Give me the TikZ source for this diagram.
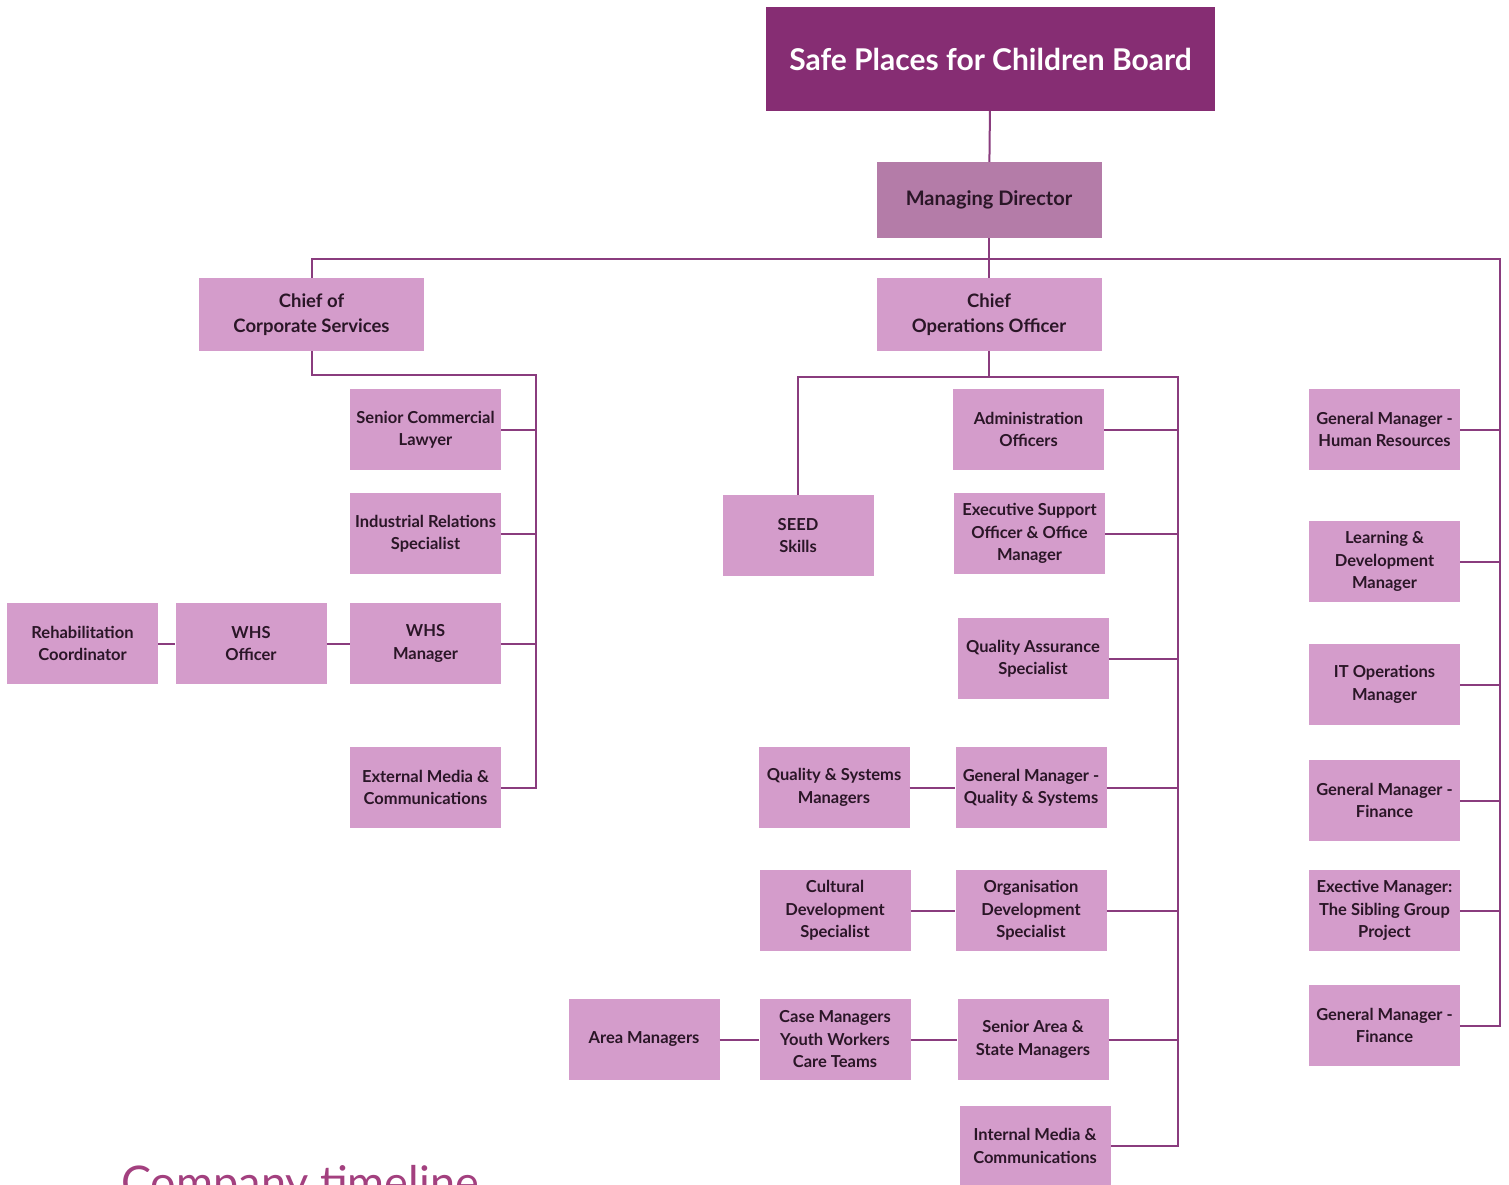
\documentclass[tikz,border=0pt]{standalone}
\usepackage{fontspec}
\setmainfont{Lato}
\usepackage{xcolor}
\definecolor{boardpurple}{HTML}{862D73}
\definecolor{mdpurple}{HTML}{B47CA8}
\definecolor{boxpink}{HTML}{D49CCB}
\definecolor{linepurple}{HTML}{8A3C7E}
\definecolor{textdark}{HTML}{2A1627}
\definecolor{timelinepink}{HTML}{A3407F}

\begin{document}
\begin{tikzpicture}[x=1pt,y=-1pt,
  box/.style={rectangle,fill=boxpink,minimum width=151pt,minimum height=81pt,inner sep=0pt,align=center,text=textdark,font=\bfseries\fontsize{16.5}{22.5}\selectfont},
  headbox/.style={box,minimum width=225pt,minimum height=73pt,font=\bfseries\fontsize{18.5}{25.5}\selectfont},
  link/.style={draw=linepurple,line width=2pt}]
\useasboundingbox[fill=white] (0,0) rectangle (1509,1184);

% top of the chart
\node[rectangle,fill=boardpurple,minimum width=449pt,minimum height=104pt,text=white,font=\bfseries\fontsize{30}{33}\selectfont] (board) at (990.5,59) {Safe Places for Children Board};
\node[headbox,fill=mdpurple,minimum height=76pt,font=\bfseries\fontsize{20}{25}\selectfont] (md) at (989,200) {Managing Director};
\node[headbox] (ccs) at (311.5,314.5) {Chief of\\Corporate Services};
\node[headbox] (coo) at (989,314.5) {Chief\\Operations Officer};

% corporate services
\node[box] (scl) at (425.5,429.5) {Senior Commercial\\Lawyer};
\node[box] (irs) at (425.5,533.5) {Industrial Relations\\Specialist};
\node[box] (whsm) at (425.5,643.5) {WHS\\Manager};
\node[box] (whso) at (251,643.5) {WHS\\Officer};
\node[box] (rehab) at (82.5,643.5) {Rehabilitation\\Coordinator};
\node[box] (emc) at (425.5,787.5) {External Media \&\\Communications};

% operations
\node[box] (seed) at (798,535.5) {SEED\\Skills};
\node[box] (admin) at (1028.5,429.5) {Administration\\Officers};
\node[box] (eso) at (1029.5,533.5) {Executive Support\\Officer \& Office\\Manager};
\node[box] (qas) at (1033,658.5) {Quality Assurance\\Specialist};
\node[box] (gmqs) at (1031,787.5) {General Manager -\\Quality \& Systems};
\node[box] (qsm) at (834,787.5) {Quality \& Systems\\Managers};
\node[box] (ods) at (1031,910.5) {Organisation\\Development\\Specialist};
\node[box] (cds) at (835,910.5) {Cultural\\Development\\Specialist};
\node[box] (sasm) at (1033,1039.5) {Senior Area \&\\State Managers};
\node[box] (cmyw) at (835,1039.5) {Case Managers\\Youth Workers\\Care Teams};
\node[box] (area) at (644,1039.5) {Area Managers};
\node[box,minimum height=80pt] (imc) at (1035,1146) {Internal Media \&\\Communications};

% right column
\node[box] (hr) at (1384.5,429.5) {General Manager -\\Human Resources};
\node[box] (ld) at (1384.5,561.5) {Learning \&\\Development\\Manager};
\node[box] (it) at (1384.5,684.5) {IT Operations\\Manager};
\node[box] (gmf) at (1384.5,800.5) {General Manager -\\Finance};
\node[box] (exm) at (1384.5,910.5) {Exective Manager:\\The Sibling Group\\Project};
\node[box] (gmf2) at (1384.5,1025.5) {General Manager -\\Finance};

\coordinate (topbus) at (1500,259);
\coordinate (leftbus) at (536,375);
\coordinate (coobus) at (1178,377);

\draw[link] (board) -- (md);
\draw[link] (md) -- (coo);
\draw[link] (ccs.north) |- (topbus) |- (gmf2.east);
\foreach \n in {hr,ld,it,gmf,exm}
  \draw[link] (\n.east) -- (\n.east -| topbus);

\draw[link] (ccs.south) |- (leftbus) |- (emc.east);
\foreach \n in {scl,irs,whsm}
  \draw[link] (\n.east) -- (\n.east -| leftbus);
\draw[link] (rehab) -- (whso) -- (whsm);

\draw[link] (coo.south) -- (coo.south |- coobus);
\draw[link] (seed.north) |- (coobus) |- (imc.east);
\foreach \n in {admin,eso,qas,gmqs,ods,sasm}
  \draw[link] (\n.east) -- (\n.east -| coobus);
\draw[link] (qsm) -- (gmqs);
\draw[link] (cds) -- (ods);
\draw[link] (area) -- (cmyw) -- (sasm);

\node[anchor=base west,text=timelinepink,font=\fontsize{45}{50}\selectfont,inner sep=0pt] (timeline) at (121,1198) {Company timeline};
\end{tikzpicture}
\end{document}
